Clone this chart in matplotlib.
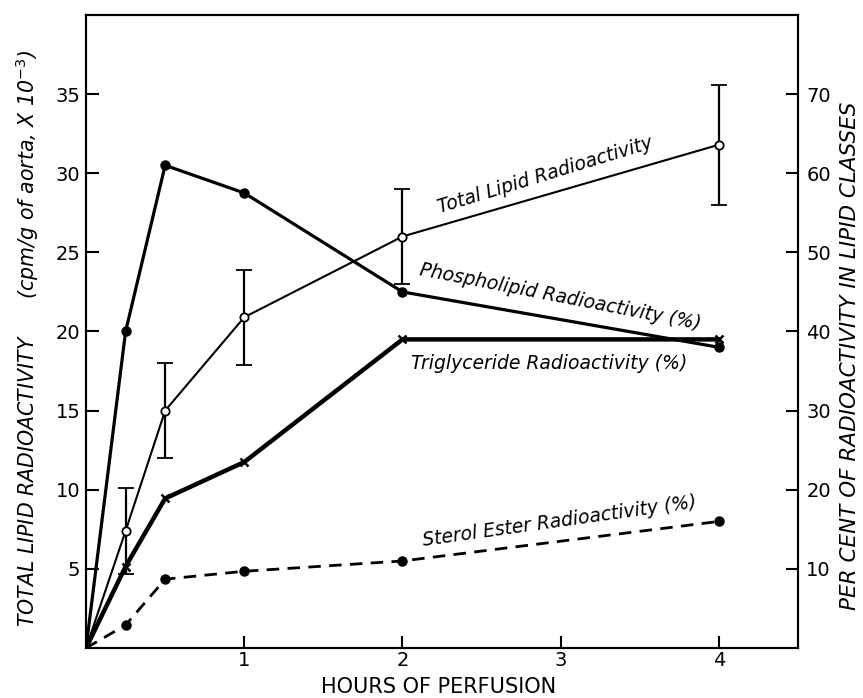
import matplotlib
matplotlib.use("Agg")
import matplotlib.pyplot as plt

# hours of perfusion
hours = [0, 0.25, 0.5, 1, 2, 4]

# total lipid radioactivity (cpm/g of aorta x 10^-3), with error bars
total_lipid = [0, 7.4, 15.0, 20.9, 26.0, 31.8]
total_err = [0, 2.7, 3.0, 3.0, 3.0, 3.8]

# per cent of radioactivity in lipid classes
phospholipid = [0, 40, 61, 57.5, 45, 38]
triglyceride = [0, 10.3, 18.9, 23.5, 39, 39]
sterol_ester = [0, 2.9, 8.7, 9.7, 11, 16]

x_ticks = [1, 2, 3, 4]
left_ticks = [5, 10, 15, 20, 25, 30, 35]
right_ticks = [10, 20, 30, 40, 50, 60, 70]

plt.rcParams['font.family'] = 'DejaVu Sans'

fig = plt.figure(figsize=(8.63, 6.98), dpi=100)
ax = fig.add_axes([0.0997, 0.0716, 0.825, 0.907])
ax2 = ax.twinx()

ax.set_xlim(0, 4.5)
ax.set_ylim(0, 40)
ax2.set_ylim(0, 80)

pts = list(range(1, 6))

# total lipid: thin line, open circles, error bars
ax.plot(hours, total_lipid, color='black', lw=1.5, zorder=3)
ax.errorbar(hours[1:], total_lipid[1:], yerr=total_err[1:], fmt='o', ms=6,
            mfc='white', mec='black', mew=1.3, ecolor='black', elinewidth=1.6,
            capsize=5.5, capthick=1.6, zorder=4)

# percentage series on the right axis
ax2.plot(hours, phospholipid, color='black', lw=2.3, marker='o', ms=6.5,
         markevery=pts)
ax2.plot(hours, triglyceride, color='black', lw=3.2, marker='x', ms=6,
         mew=1.8, markevery=pts)
ax2.plot(hours, sterol_ester, color='black', lw=2.0, dashes=(4.5, 3),
         marker='o', ms=6.5, markevery=pts)

# labels along the lines
txt = dict(fontsize=13.5, style='italic', ha='center', va='center',
           rotation_mode='anchor')
ax2.text(2.9, 59.8, 'Total Lipid Radioactivity', rotation=17, **txt)
ax2.text(3.0, 44.4, 'Phospholipid Radioactivity (%)', rotation=-11, **txt)
ax2.text(2.93, 36.0, 'Triglyceride Radioactivity (%)', rotation=0, **txt)
ax2.text(2.99, 16.0, 'Sterol Ester Radioactivity (%)', rotation=8, **txt)

# axes styling
for a in (ax, ax2):
    for s in a.spines.values():
        s.set_linewidth(1.5)
ax.set_xticks(x_ticks)
ax.set_xticklabels([str(v) for v in x_ticks])
ax.set_yticks(left_ticks)
ax2.set_yticks(right_ticks)
ax.tick_params(axis='both', direction='in', length=9, width=1.5,
               labelsize=14)
ax.tick_params(axis='x', pad=2)
ax.tick_params(axis='y', pad=4)
ax2.tick_params(axis='y', direction='in', length=9, width=1.5,
                labelsize=14, pad=6)

fig.text(0.508, 0.002, 'HOURS OF PERFUSION', fontsize=15, ha='center',
         va='bottom')
fig.text(0.032, 0.515,
         'TOTAL LIPID RADIOACTIVITY      (cpm/g of aorta, X 10$^{-3}$)',
         fontsize=14.8, style='italic', rotation=90, ha='center',
         va='center')
fig.text(0.985, 0.49, 'PER CENT OF RADIOACTIVITY IN LIPID CLASSES',
         fontsize=15.5, style='italic', rotation=90, ha='center', va='center')

fig.savefig('out.png', dpi=100)
